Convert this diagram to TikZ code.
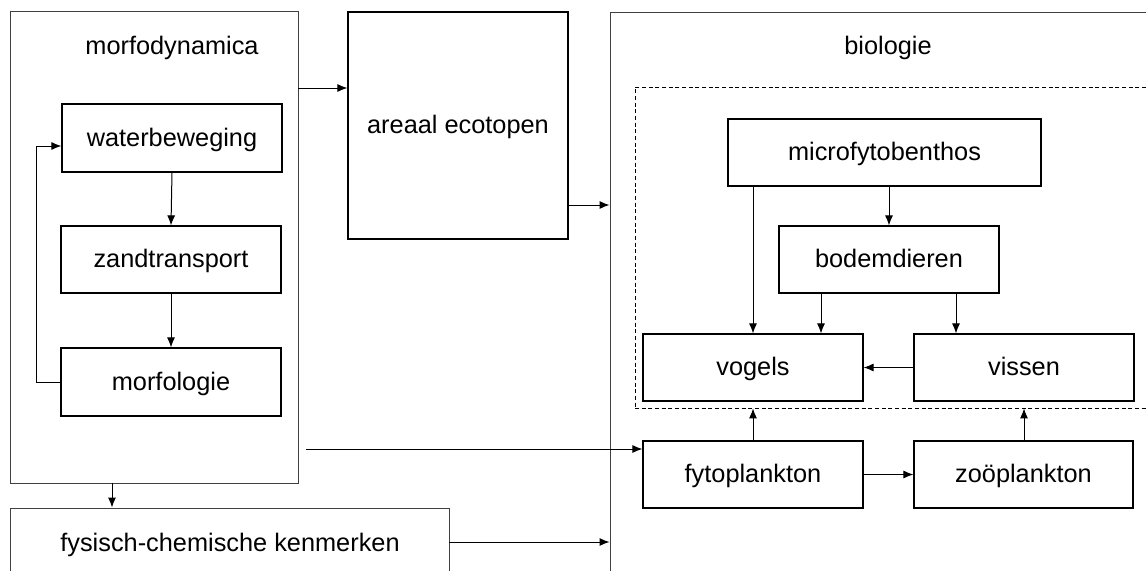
\documentclass[tikz,border=0pt]{standalone}
\usepackage{fontspec}
\setmainfont{Liberation Sans}
\usetikzlibrary{arrows.meta}
\tikzset{
  x=0.75pt, y=-0.75pt,
  txt/.style={font=\fontsize{19}{22}\selectfont, inner sep=0pt},
  outer/.style={draw=black!75, line width=0.7pt, inner sep=0pt},
  box/.style={draw, line width=0.9pt, inner sep=0pt, text height=16pt, text depth=4pt, font=\fontsize{19}{22}\selectfont},
  dbox/.style={draw, line width=0.6pt, dash pattern=on 3pt off 2pt, inner sep=0pt},
  arr/.style={line width=0.75pt, -{Latex[length=7.5pt,width=6pt]}},
}
\begin{document}
\begin{tikzpicture}
\useasboundingbox (0,0) rectangle (1146,571);
\clip (0,0) rectangle (1146,571);
\fill[white] (0,0) rectangle (1146,571);
% outer containers
\node[outer, minimum width=216pt, minimum height=354pt] (morfo) at (154,247) {};
\node[txt] (morfotxt) at (172,48) {morfodynamica};
\node[outer, minimum width=329.25pt, minimum height=69pt] (fysisch) at (229.5,554) {};
\node[txt] (fysischtxt) at (230,545) {fysisch-chemische kenmerken};
\node[outer, minimum width=420pt, minimum height=441pt] (bio) at (890,306) {};
\node[txt] (biotxt) at (888,48) {biologie};
\node[dbox, minimum width=393.75pt, minimum height=240.75pt] (dash) at (897.5,247.5) {};
% boxes
\node[box, minimum width=165pt, minimum height=51pt] (water) at (172,138) {waterbeweging};
\node[box, minimum width=165pt, minimum height=50.25pt] (zand) at (171,259.5) {zandtransport};
\node[box, minimum width=165pt, minimum height=51pt] (morfol) at (171,382) {morfologie};
\node[box, minimum width=165pt, minimum height=170.25pt] (areaal) at (458,125.5) {areaal ecotopen};
\node[box, minimum width=234.75pt, minimum height=50.25pt] (micro) at (884.5,152.5) {microfytobenthos};
\node[box, minimum width=165pt, minimum height=50.25pt] (bodem) at (889,259.5) {bodemdieren};
\node[box, minimum width=165pt, minimum height=50.25pt] (vogels) at (753,367.5) {vogels};
\node[box, minimum width=165pt, minimum height=50.25pt] (vissen) at (1024,367.5) {vissen};
\node[box, minimum width=165pt, minimum height=50.25pt] (fyto) at (753,474.5) {fytoplankton};
\node[box, minimum width=164.25pt, minimum height=50.25pt] (zoo) at (1023.5,474.5) {zoöplankton};
% connectors
\draw[arr] (morfo.east |- 0,88) -- (areaal.west |- 0,88);
\draw[arr] (areaal.east |- 0,205) -- (bio.west |- 0,205);
\draw[arr] (water.south) -- (zand.north);
\draw[arr] (zand.south) -- (morfol.north);
\coordinate (fb) at (36,146);
\draw[arr] (morfol.west) -| (fb) -- (water.west |- fb);
\draw[arr] (morfo.south -| 112,0) -- (fysisch.north -| 112,0);
\draw[arr] (fysisch.east |- 0,542) -- (bio.west |- 0,542);
\coordinate (mstart) at (306,449);
\draw[arr] (mstart) -- (fyto.west |- mstart);
\draw[arr] (fyto.north) -- (fyto.north |- dash.south);
\draw[arr] (zoo.north -| 1024,0) -- (dash.south -| 1024,0);
\draw[arr] (fyto.east) -- (zoo.west);
\draw[arr] (micro.south -| vogels.north) -- (vogels.north);
\draw[arr] (micro.south -| bodem.north) -- (bodem.north);
\draw[arr] (bodem.south -| 821,0) -- (vogels.north -| 821,0);
\draw[arr] (bodem.south -| 956,0) -- (vissen.north -| 956,0);
\draw[arr] (vissen.west) -- (vogels.east);
\end{tikzpicture}
\end{document}
